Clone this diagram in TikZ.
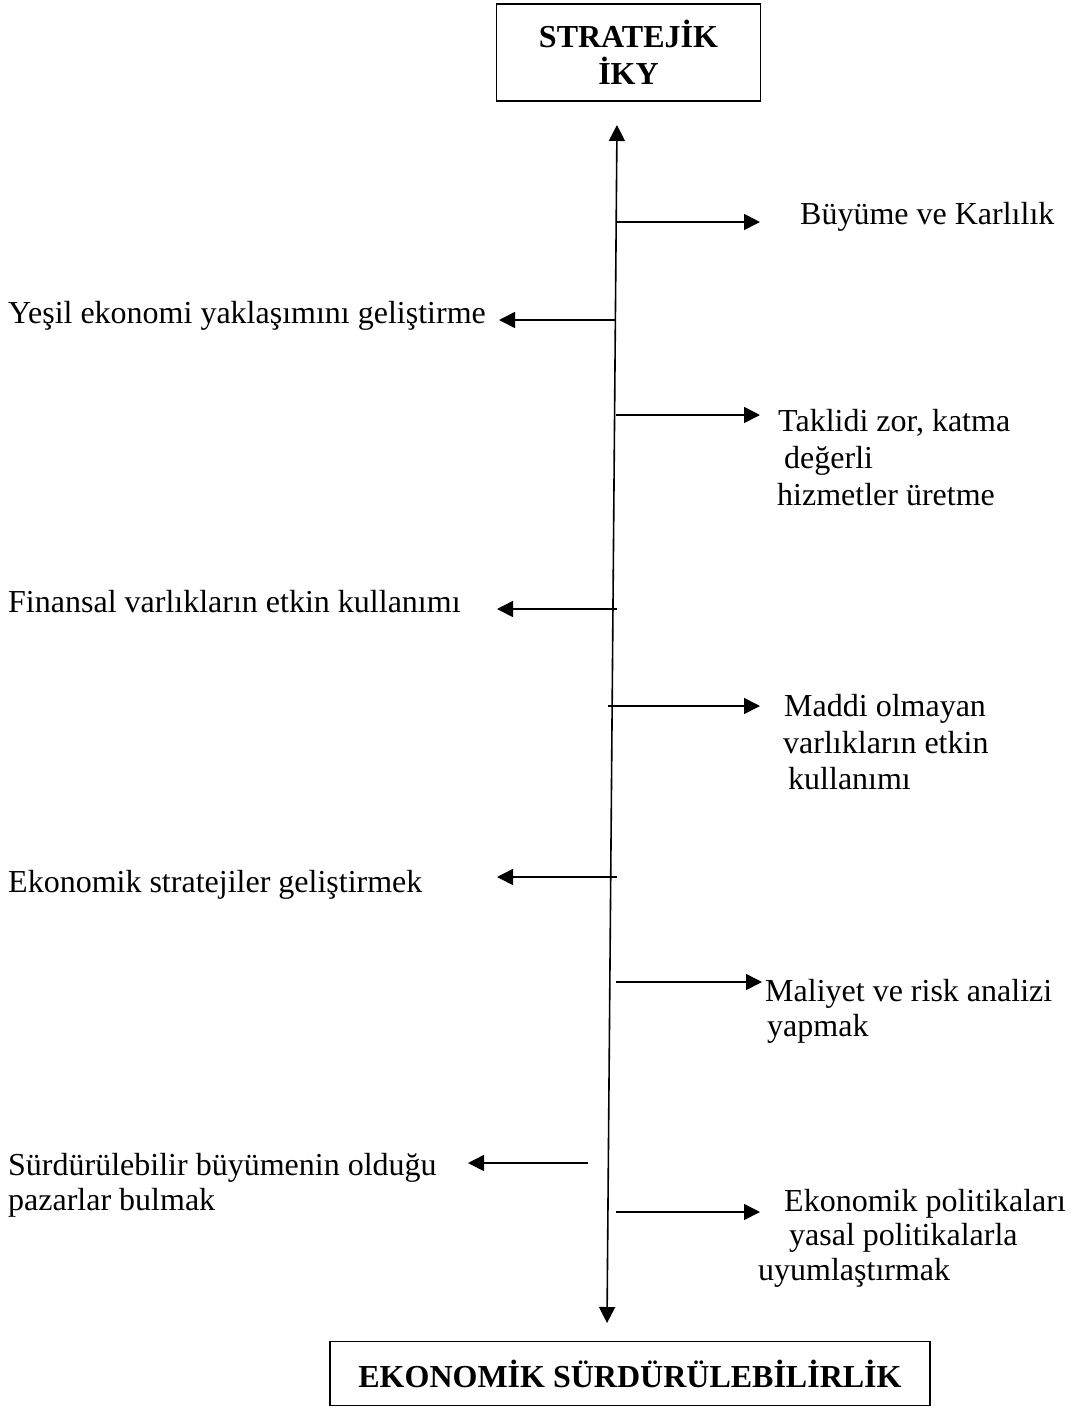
\documentclass[tikz,border=0pt]{standalone}
\usepackage{fontspec}
\setmainfont{Liberation Serif}
\usetikzlibrary{arrows.meta}
\begin{document}
\begin{tikzpicture}[x=1pt,y=-1pt,
  lbl/.style={anchor=base west, inner sep=0pt, font=\fontsize{32}{38}\selectfont},
  box/.style={draw, line width=1.6pt, inner sep=0pt, align=center, font=\fontsize{32}{37}\selectfont\bfseries},
  conn/.style={line width=1.6pt, -{Triangle[length=16pt,width=16pt]}},
  spine/.style={line width=1.6pt, {Triangle[length=16pt,width=16pt]}-{Triangle[length=16pt,width=16pt]}}]
\useasboundingbox (0,0) rectangle (1076,1414);

% boxes
\node[box, minimum width=264pt, minimum height=97pt] (top) at (628.5,52.5) {STRATEJİK\\İKY};
\node[box, minimum width=600pt, minimum height=64pt] (bot) at (630,1373.5) {EKONOMİK SÜRDÜRÜLEBİLİRLİK};

% spine
\coordinate (sTop) at (617,125);
\coordinate (sBot) at (607,1323);
\draw[spine] (sBot) -- (sTop);

% tails and tips
\coordinate (a1) at (617,222);  \coordinate (b1) at (760,222);
\coordinate (a2) at (616,320);  \coordinate (b2) at (499,320);
\coordinate (a3) at (616,415);  \coordinate (b3) at (760,415);
\coordinate (a4) at (617,609);  \coordinate (b4) at (497,609);
\coordinate (a5) at (608,706);  \coordinate (b5) at (760,706);
\coordinate (a6) at (617,877);  \coordinate (b6) at (497,877);
\coordinate (a7) at (616,982);  \coordinate (b7) at (762,982);
\coordinate (a8) at (588,1163); \coordinate (b8) at (468,1163);
\coordinate (a9) at (616,1212); \coordinate (b9) at (760,1212);
\foreach \i in {1,...,9} {\draw[conn] (a\i) -- (b\i);}

% labels
\node[lbl] (l1) at (800,224) {Büyüme ve Karlılık};
\node[lbl] (l2) at (8,323) {Yeşil ekonomi yaklaşımını geliştirme};
\node[lbl] (l3a) at (778,431) {Taklidi zor, katma};
\node[lbl] (l3b) at (784,468) {değerli};
\node[lbl] (l3c) at (777,505) {hizmetler üretme};
\node[lbl] (l4) at (8,612) {Finansal varlıkların etkin kullanımı};
\node[lbl] (l5a) at (784,716) {Maddi olmayan};
\node[lbl] (l5b) at (783,753) {varlıkların etkin};
\node[lbl] (l5c) at (788,789) {kullanımı};
\node[lbl] (l6) at (8,892) {Ekonomik stratejiler geliştirmek};
\node[lbl] (l7a) at (765,1001) {Maliyet ve risk analizi};
\node[lbl] (l7b) at (767,1036) {yapmak};
\node[lbl] (l8a) at (8,1175) {Sürdürülebilir büyümenin olduğu};
\node[lbl] (l8b) at (8,1210) {pazarlar bulmak};
\node[lbl] (l9a) at (784,1211) {Ekonomik politikaları};
\node[lbl] (l9b) at (789,1245) {yasal politikalarla};
\node[lbl] (l9c) at (758,1280) {uyumlaştırmak};
\end{tikzpicture}
\end{document}
